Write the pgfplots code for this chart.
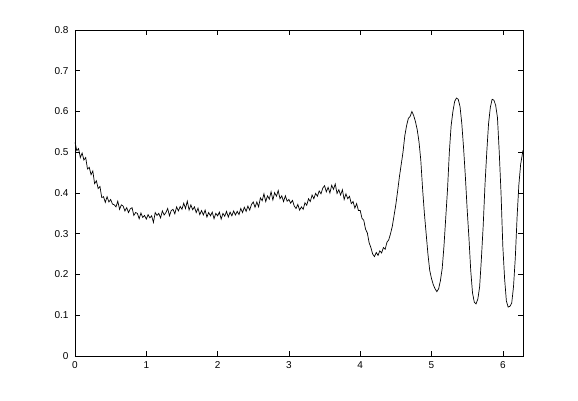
\documentclass[border=0pt]{standalone}
\usepackage{pgfplots}
\pgfplotsset{compat=1.18}
\usepackage{fontspec}
\setmainfont{Liberation Sans}
\begin{document}
\begin{tikzpicture}[x=1pt,y=1pt]
\path[use as bounding box] (-75,-44) rectangle (503,356);
\begin{axis}[
  at={(0,0)}, anchor=south west,
  scale only axis, width=448pt, height=326pt,
  xmin=0, xmax=6.2832, ymin=0, ymax=0.8,
  xtick={0,1,2,3,4,5,6},
  ytick={0,0.1,0.2,0.3,0.4,0.5,0.6,0.7,0.8},
  yticklabels={0,0.1,0.2,0.3,0.4,0.5,0.6,0.7,0.8},
  tick pos=both, tick align=inside,
  major tick length=5pt,
  axis line style={line width=0.6pt, black},
  every tick/.style={line width=0.6pt, black},
  /pgf/number format/assume math mode=true,
  ticklabel style={font=\fontsize{10}{12}\selectfont},
  xticklabel style={yshift=-2pt},
  yticklabel style={xshift=-3pt},
]
\addplot[black, line width=0.7pt] coordinates {
(0.000,0.525)(0.025,0.504)(0.050,0.509)(0.075,0.487)(0.100,0.498)(0.125,0.481)(0.150,0.487)(0.175,0.459)(0.200,0.463)(0.225,0.445)
(0.250,0.454)(0.275,0.423)(0.300,0.430)(0.325,0.411)(0.350,0.416)(0.375,0.389)(0.400,0.391)(0.425,0.377)(0.450,0.391)(0.475,0.378)
(0.500,0.384)(0.525,0.373)(0.550,0.371)(0.575,0.366)(0.600,0.380)(0.625,0.360)(0.650,0.371)(0.675,0.368)(0.700,0.356)(0.725,0.364)
(0.750,0.352)(0.775,0.361)(0.800,0.364)(0.825,0.345)(0.850,0.352)(0.875,0.350)(0.900,0.337)(0.925,0.351)(0.950,0.340)(0.975,0.345)
(1.000,0.336)(1.025,0.347)(1.050,0.339)(1.075,0.344)(1.100,0.328)(1.125,0.352)(1.150,0.345)(1.175,0.350)(1.200,0.339)(1.225,0.356)
(1.250,0.346)(1.275,0.352)(1.300,0.362)(1.325,0.344)(1.350,0.357)(1.375,0.360)(1.400,0.349)(1.425,0.366)(1.450,0.356)(1.475,0.367)
(1.500,0.360)(1.525,0.375)(1.550,0.362)(1.575,0.380)(1.600,0.358)(1.625,0.371)(1.650,0.359)(1.675,0.366)(1.700,0.352)(1.725,0.363)
(1.750,0.347)(1.775,0.357)(1.800,0.346)(1.825,0.358)(1.850,0.341)(1.875,0.352)(1.900,0.344)(1.925,0.353)(1.950,0.337)(1.975,0.350)
(2.000,0.344)(2.025,0.353)(2.050,0.336)(2.075,0.350)(2.100,0.343)(2.125,0.355)(2.150,0.341)(2.175,0.353)(2.200,0.344)(2.225,0.356)
(2.250,0.346)(2.275,0.355)(2.300,0.347)(2.325,0.362)(2.350,0.352)(2.375,0.365)(2.400,0.355)(2.425,0.368)(2.450,0.358)(2.475,0.372)
(2.500,0.378)(2.525,0.365)(2.550,0.378)(2.575,0.366)(2.600,0.388)(2.625,0.381)(2.650,0.398)(2.675,0.379)(2.700,0.393)(2.725,0.385)
(2.750,0.403)(2.775,0.383)(2.800,0.401)(2.825,0.392)(2.850,0.406)(2.875,0.386)(2.900,0.393)(2.925,0.379)(2.950,0.393)(2.975,0.380)
(3.000,0.384)(3.025,0.375)(3.050,0.382)(3.075,0.368)(3.100,0.362)(3.125,0.372)(3.150,0.358)(3.175,0.366)(3.200,0.360)(3.225,0.376)
(3.250,0.370)(3.275,0.386)(3.300,0.379)(3.325,0.395)(3.350,0.386)(3.375,0.399)(3.400,0.392)(3.425,0.405)(3.450,0.398)(3.475,0.412)
(3.500,0.418)(3.525,0.403)(3.550,0.414)(3.575,0.400)(3.600,0.419)(3.625,0.409)(3.650,0.422)(3.675,0.399)(3.700,0.408)(3.725,0.395)
(3.750,0.408)(3.775,0.384)(3.800,0.398)(3.825,0.386)(3.850,0.392)(3.875,0.374)(3.900,0.379)(3.925,0.363)(3.950,0.374)(3.975,0.357)
(4.000,0.357)(4.025,0.338)(4.050,0.333)(4.075,0.311)(4.100,0.302)(4.125,0.278)(4.150,0.266)(4.175,0.250)(4.200,0.244)(4.225,0.254)
(4.250,0.247)(4.275,0.258)(4.300,0.253)(4.325,0.266)(4.350,0.262)(4.375,0.279)(4.400,0.285)(4.425,0.300)(4.450,0.318)(4.475,0.345)
(4.500,0.372)(4.525,0.405)(4.550,0.440)(4.575,0.470)(4.600,0.500)(4.625,0.540)(4.650,0.565)(4.675,0.583)(4.700,0.588)(4.725,0.600)
(4.750,0.590)(4.775,0.575)(4.800,0.555)(4.825,0.525)(4.850,0.480)(4.875,0.410)(4.900,0.350)(4.925,0.300)(4.950,0.250)(4.975,0.210)
(5.000,0.190)(5.025,0.175)(5.050,0.165)(5.075,0.158)(5.100,0.165)(5.125,0.185)(5.150,0.215)(5.175,0.270)(5.200,0.340)(5.225,0.410)
(5.250,0.500)(5.275,0.565)(5.300,0.600)(5.325,0.625)(5.350,0.633)(5.375,0.630)(5.400,0.612)(5.425,0.570)(5.450,0.510)(5.475,0.440)
(5.500,0.360)(5.525,0.290)(5.550,0.210)(5.575,0.155)(5.600,0.132)(5.625,0.128)(5.650,0.140)(5.675,0.170)(5.700,0.240)(5.725,0.320)
(5.750,0.420)(5.775,0.500)(5.800,0.570)(5.825,0.610)(5.850,0.630)(5.875,0.628)(5.900,0.615)(5.925,0.585)(5.950,0.500)(5.975,0.400)
(6.000,0.270)(6.025,0.190)(6.050,0.135)(6.075,0.120)(6.100,0.122)(6.125,0.130)(6.150,0.170)(6.175,0.240)(6.200,0.340)(6.225,0.420)
(6.250,0.470)(6.2832,0.505)
};
\end{axis}
\end{tikzpicture}
\end{document}
